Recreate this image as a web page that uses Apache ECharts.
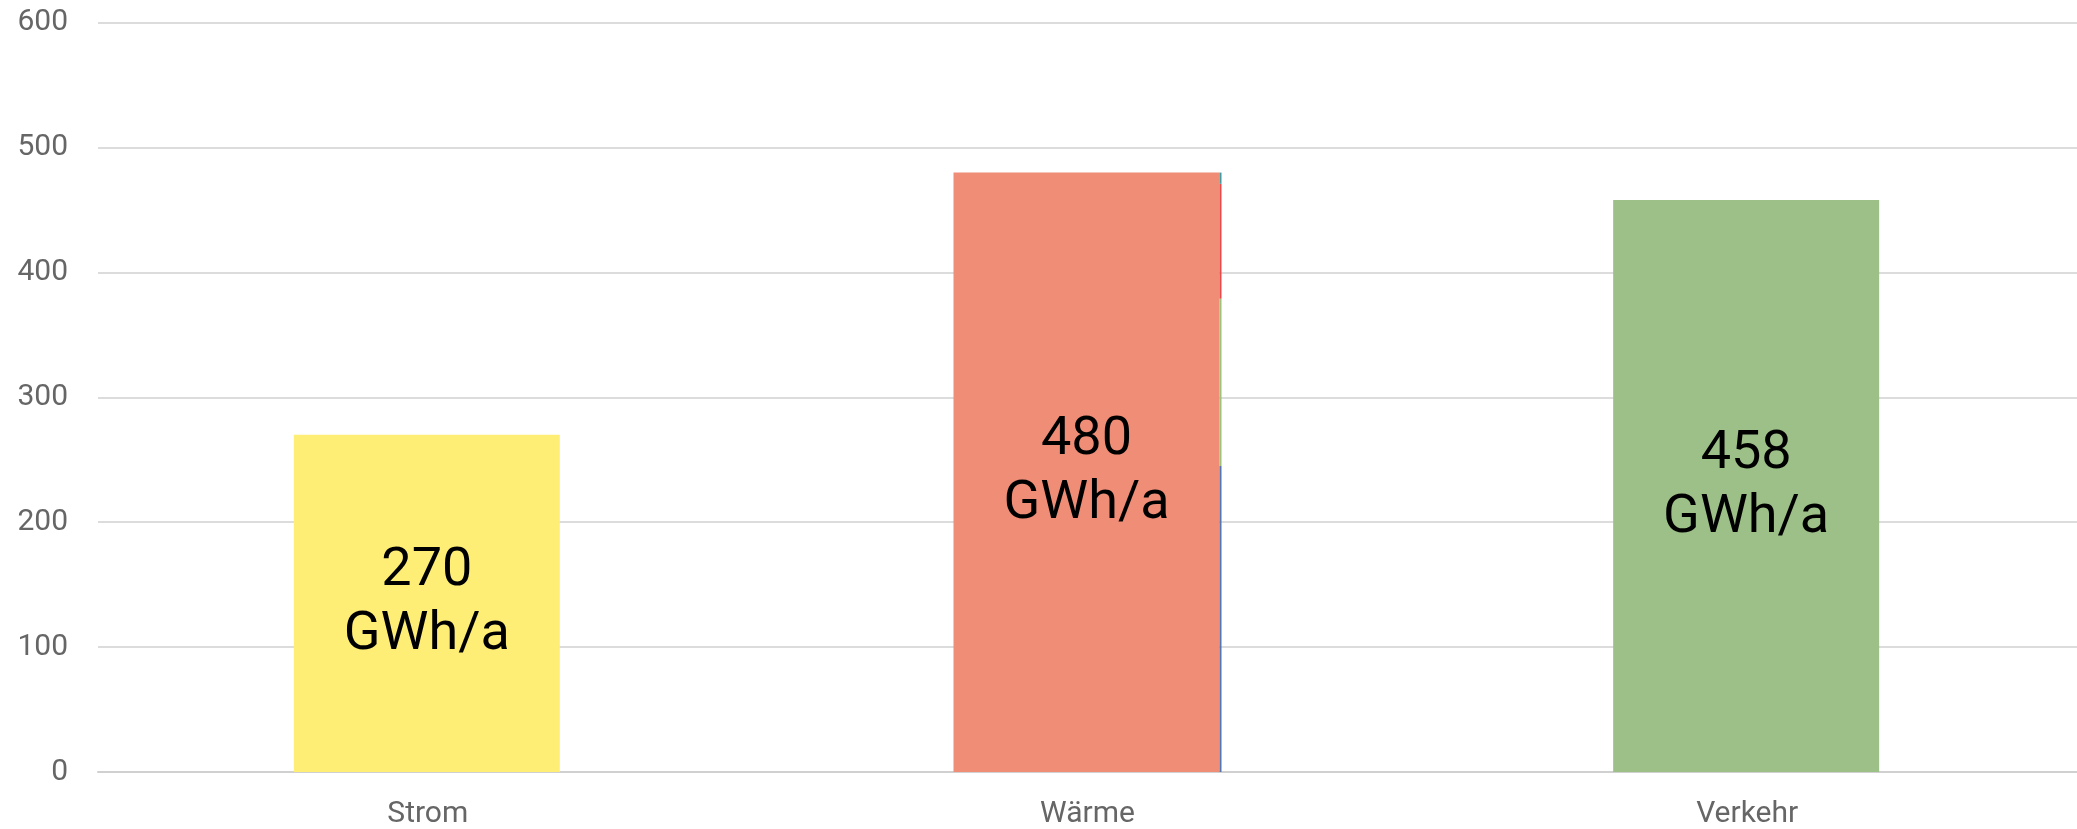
<!DOCTYPE html>
<html>
<head>
<meta charset="utf-8">
<script src="https://cdn.jsdelivr.net/npm/echarts@6/dist/echarts.min.js"></script>
<style>
html,body{margin:0;padding:0;background:#fff;}
#c{width:2077px;height:829px;}
</style>
</head>
<body>
<div id="c"></div>
<script>
const categories = ['Strom', 'Wärme', 'Verkehr'];
const totals = [270, 480, 458];
const barColors = ['#FFEE75', '#F08D77', '#9DC088'];
const yTicks = [0, 100, 200, 300, 400, 500, 600];
// thin breakdown stack next to the Wärme bar
const partBlue = ['-', 245, '-'];
const partGreen = ['-', 134, '-'];
const partRed = ['-', 92, '-'];
const partTeal = ['-', 9, '-'];
const partColors = ['#4F78B4', '#9CC27C', '#E8494B', '#3F9BA2'];

const chart = echarts.init(document.getElementById('c'), null, {renderer: 'canvas'});
const parts = [partBlue, partGreen, partRed, partTeal];
const partSeries = parts.map((d, i) => ({
  type: 'bar',
  stack: 'mix',
  data: d,
  barWidth: 2,
  itemStyle: {color: partColors[i]},
  silent: true
}));
chart.setOption({
  animation: false,
  backgroundColor: '#fff',
  grid: {left: 98, right: 0, top: 22.7, bottom: 57, containLabel: false},
  xAxis: {
    type: 'category',
    data: categories,
    axisTick: {show: false},
    axisLine: {lineStyle: {color: '#d0d0d0', width: 2}},
    axisLabel: {fontFamily: 'Roboto', fontSize: 30, color: '#666', margin: 27}
  },
  yAxis: {
    type: 'value',
    min: yTicks[0],
    max: yTicks[yTicks.length - 1],
    interval: 100,
    axisLine: {show: false},
    axisTick: {show: false},
    axisLabel: {fontFamily: 'Roboto', fontSize: 30, color: '#666', margin: 30},
    splitLine: {lineStyle: {color: '#dcdcdc', width: 2}}
  },
  series: [{
    type: 'bar',
    data: totals.map((v, i) => ({value: v, itemStyle: {color: barColors[i]}})),
    barWidth: 266,
    barGap: 0,
    label: {
      show: true,
      position: 'inside',
      formatter: '{c}\nGWh/a',
      fontFamily: 'Roboto',
      fontSize: 54,
      lineHeight: 64,
      color: '#000'
    }
  }].concat(partSeries)
});
</script>
</body>
</html>
